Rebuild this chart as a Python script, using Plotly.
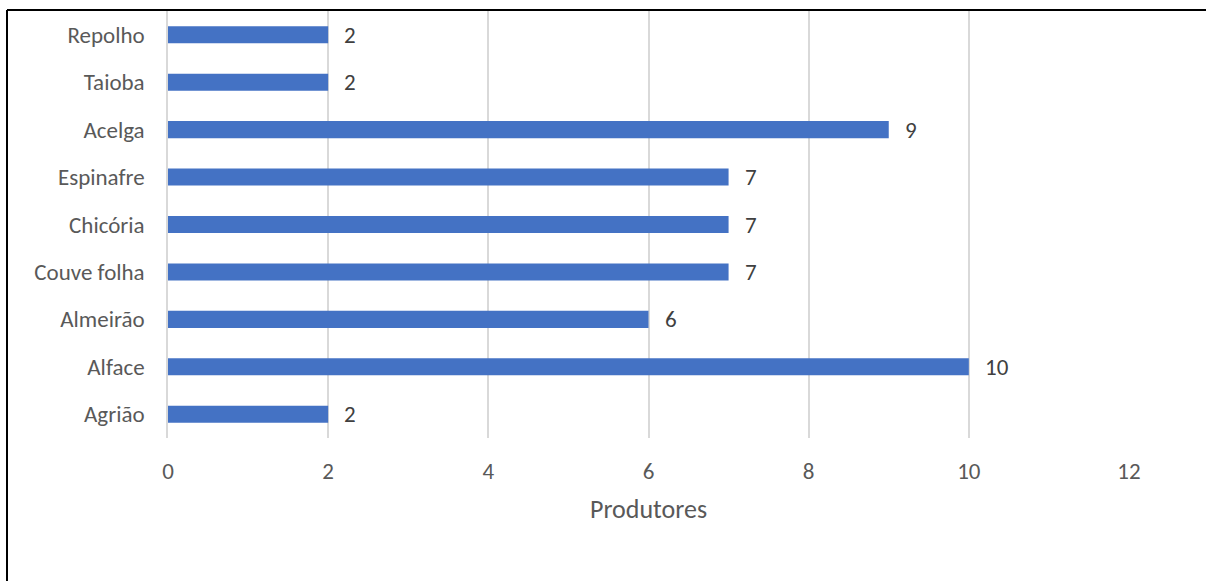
import plotly.graph_objects as go

# Vegetables (bottom to top) and number of producers growing each one
culturas = ["Agrião", "Alface", "Almeirão", "Couve folha", "Chicória",
            "Espinafre", "Acelga", "Taioba", "Repolho"]
produtores = [2, 10, 6, 7, 7, 7, 9, 2, 2]
x_ticks = [0, 2, 4, 6, 8, 10, 12]

W, H = 1206, 581
FONT = "Carlito, Calibri, Lato, sans-serif"

fig = go.Figure(go.Bar(
    x=produtores,
    y=culturas,
    orientation="h",
    marker=dict(color="#4472C4", line=dict(width=0)),
    hoverinfo="skip",
))

# value labels just to the right of each bar end
labels = [
    dict(x=v, y=c, xref="x", yref="y", text=str(v), showarrow=False,
         xanchor="left", yanchor="middle", xshift=14,
         font=dict(family=FONT, size=23, color="#404040"))
    for c, v in zip(culturas, produtores)
]

fig.update_layout(
    width=W, height=H,
    margin=dict(l=0, r=0, t=0, b=0, autoexpand=False),
    paper_bgcolor="white",
    plot_bgcolor="white",
    bargap=0.64,
    showlegend=False,
    font=dict(family=FONT, size=23, color="#595959"),
    xaxis=dict(
        domain=[168 / W, 1129 / W],
        range=[0, 12],
        tickvals=x_ticks,
        automargin=False,
        showgrid=True, gridcolor="#D9D9D9", gridwidth=1.5,
        zeroline=False, showline=False,
        ticks="outside", ticklen=12, tickcolor="rgba(0,0,0,0)",
        tickfont=dict(family=FONT, size=23, color="#595959"),
    ),
    yaxis=dict(
        domain=[1 - 438 / H, 1 - 11 / H],
        automargin=False,
        showgrid=False, zeroline=False,
        showline=True, linecolor="#D9D9D9", linewidth=1.5,
        layer="below traces",
        ticks="outside", ticklen=17, tickcolor="rgba(0,0,0,0)",
        tickfont=dict(family=FONT, size=23, color="#595959"),
    ),
    annotations=labels + [dict(
        text="Produtores", xref="paper", yref="paper",
        x=648.5 / W, y=1 - 509 / H, xanchor="center", yanchor="middle",
        showarrow=False, font=dict(family=FONT, size=26, color="#595959"),
    )],
    shapes=[
        dict(type="line", xref="paper", yref="paper",
             x0=7 / W, x1=1, y0=1 - 10 / H, y1=1 - 10 / H,
             line=dict(color="black", width=2)),
        dict(type="line", xref="paper", yref="paper",
             x0=7 / W, x1=7 / W, y0=0, y1=1 - 10 / H,
             line=dict(color="black", width=2)),
    ],
)

fig.write_html("out.html")
